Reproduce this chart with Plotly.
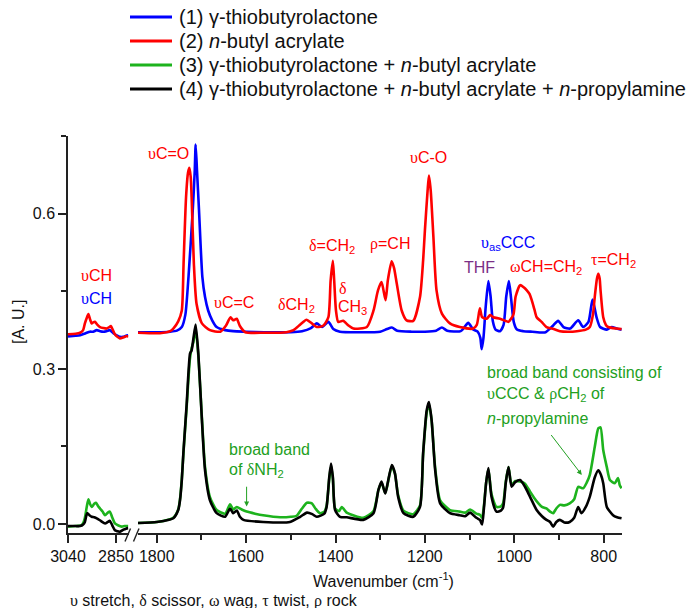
import plotly.graph_objects as go

# ---------------- spectra, C-H stretch window (3040-2800 cm-1) ----------------
WN_CH_BLUE = [3040, 3010, 2992, 2970, 2953, 2940, 2926, 2913, 2900, 2887, 2874, 2860, 2847, 2835, 2821, 2810, 2801]
AB_CH_BLUE = [0.363, 0.364, 0.365, 0.369, 0.372, 0.372, 0.375, 0.373, 0.372, 0.373, 0.375, 0.369, 0.365, 0.362, 0.362, 0.364, 0.365]

WN_CH_RED = [3040, 3010, 2992, 2980, 2973, 2966, 2959, 2952, 2946, 2940, 2933, 2923, 2913, 2900, 2887, 2876, 2870,
             2862, 2854, 2844, 2834, 2820, 2810, 2801]
AB_CH_RED = [0.367, 0.368, 0.370, 0.375, 0.388, 0.398, 0.406, 0.395, 0.388, 0.390, 0.391, 0.385, 0.381, 0.379, 0.378,
             0.381, 0.383, 0.375, 0.367, 0.362, 0.359, 0.361, 0.363, 0.363]

WN_CH_GREEN = [3040, 3010, 2986, 2978, 2973, 2965, 2959, 2952, 2946, 2936, 2929, 2921, 2913, 2903, 2893, 2882, 2874,
               2864, 2854, 2840, 2827, 2815, 2801]
AB_CH_GREEN = [-0.005, -0.004, -0.002, 0.004, 0.012, 0.035, 0.048, 0.038, 0.033, 0.039, 0.041, 0.035, 0.030, 0.024,
               0.017, 0.022, 0.024, 0.012, 0.001, -0.003, -0.005, -0.004, -0.004]

WN_CH_BLACK = [3040, 3010, 2992, 2980, 2973, 2968, 2964, 2955, 2946, 2936, 2926, 2910, 2893, 2882, 2874, 2864, 2854,
               2844, 2834, 2820, 2810, 2801]
AB_CH_BLACK = [-0.004, -0.004, -0.004, -0.001, 0.004, 0.015, 0.021, 0.017, 0.014, 0.013, 0.011, 0.006, 0.001, 0.004,
               0.006, -0.003, -0.012, -0.014, -0.015, -0.011, -0.009, -0.008]

# ---------------- spectra, fingerprint window (1840-760 cm-1) ----------------
WN_FP_BLUE = [1842, 1800, 1770, 1755, 1744, 1736, 1729, 1719.5, 1715, 1713, 1710, 1705.5, 1698, 1692, 1685, 1676,
              1666, 1647, 1629, 1600, 1560, 1500, 1475, 1455, 1442, 1430, 1416, 1405, 1390, 1350, 1300, 1285, 1274,
              1262, 1230, 1200, 1175, 1162, 1150, 1120, 1103, 1092, 1082, 1076, 1073, 1069, 1064, 1058, 1053, 1048,
              1042, 1032, 1024, 1018, 1012, 1007, 1001, 994, 980, 960, 930, 913, 902, 890, 875, 857, 846, 834, 825,
              816, 808, 793, 782, 771, 760]
AB_FP_BLUE = [0.371, 0.371, 0.372, 0.374, 0.381, 0.405, 0.478, 0.607, 0.684, 0.734, 0.684, 0.607, 0.478, 0.439, 0.413,
              0.394, 0.381, 0.375, 0.373, 0.372, 0.371, 0.371, 0.373, 0.379, 0.388, 0.381, 0.391, 0.377, 0.372, 0.371,
              0.372, 0.377, 0.380, 0.374, 0.372, 0.372, 0.374, 0.380, 0.374, 0.373, 0.389, 0.376, 0.372, 0.360, 0.338,
              0.360, 0.420, 0.470, 0.440, 0.392, 0.376, 0.373, 0.385, 0.440, 0.470, 0.435, 0.390, 0.376, 0.373, 0.372,
              0.371, 0.384, 0.393, 0.381, 0.378, 0.394, 0.381, 0.391, 0.434, 0.400, 0.381, 0.376, 0.381, 0.378, 0.376]

WN_FP_RED = [1842, 1793, 1770, 1763, 1752, 1744, 1740, 1734.5, 1730, 1727, 1724, 1722, 1717, 1711, 1699, 1681, 1658,
             1645, 1635, 1629, 1621, 1614, 1602, 1560, 1510, 1494, 1480, 1472, 1465, 1453, 1442, 1427, 1416, 1411,
             1406, 1403, 1399, 1394, 1383, 1371, 1360, 1330, 1315, 1305, 1297, 1288, 1283, 1274.5, 1269, 1263, 1252,
             1241, 1226, 1211, 1204, 1200, 1194, 1191, 1187, 1181, 1174, 1162, 1144, 1122, 1092, 1084, 1077, 1072,
             1062, 1054, 1047, 1032, 1020, 1013, 1002, 997, 987, 979, 972, 966, 961, 955, 950, 939, 928, 912, 898,
             880, 860, 840, 831, 824, 820, 815, 812, 809, 807, 801, 795, 790, 771, 760]
AB_FP_RED = [0.370, 0.369, 0.373, 0.378, 0.392, 0.413, 0.504, 0.632, 0.680, 0.689, 0.671, 0.632, 0.504, 0.426, 0.388,
             0.375, 0.372, 0.384, 0.400, 0.394, 0.397, 0.383, 0.371, 0.370, 0.371, 0.375, 0.385, 0.391, 0.395, 0.388,
             0.381, 0.384, 0.400, 0.471, 0.509, 0.471, 0.413, 0.391, 0.393, 0.384, 0.378, 0.381, 0.413, 0.452, 0.468,
             0.433, 0.471, 0.508, 0.495, 0.465, 0.413, 0.394, 0.393, 0.439, 0.510, 0.568, 0.645, 0.674, 0.645, 0.555,
             0.452, 0.407, 0.388, 0.381, 0.378, 0.385, 0.417, 0.400, 0.397, 0.404, 0.400, 0.397, 0.393, 0.391, 0.405,
             0.440, 0.462, 0.458, 0.452, 0.445, 0.433, 0.415, 0.400, 0.391, 0.381, 0.377, 0.373, 0.372, 0.373, 0.376,
             0.381, 0.405, 0.439, 0.475, 0.484, 0.475, 0.452, 0.400, 0.385, 0.381, 0.378, 0.377]

WN_FP_GREEN = [1842, 1800, 1785, 1763, 1752, 1748, 1744, 1740.5, 1733, 1726, 1722, 1718, 1713, 1707, 1699, 1692, 1681,
               1666, 1647, 1636, 1629, 1621, 1610, 1599, 1580, 1562, 1524, 1500, 1487, 1475, 1464, 1453, 1445, 1435,
               1425, 1420, 1414, 1410, 1406, 1401, 1392, 1386, 1378, 1375, 1338, 1315, 1304, 1297, 1289, 1285, 1274,
               1267, 1260, 1248, 1226, 1211, 1204, 1196, 1191, 1185, 1177, 1166, 1144, 1122, 1110, 1099, 1085, 1077,
               1072, 1068, 1063, 1058, 1051, 1040, 1030, 1025, 1019, 1013, 1006, 998, 987, 976, 965, 955, 946, 938,
               928, 920, 913, 906, 898, 888, 876, 866, 857, 846, 838, 831, 820, 812, 807, 801, 793, 786, 775, 768,
               764, 760]
AB_FP_GREEN = [0.002, 0.004, 0.006, 0.012, 0.028, 0.048, 0.087, 0.135, 0.228, 0.318, 0.340, 0.352, 0.378, 0.325, 0.205,
               0.110, 0.052, 0.027, 0.020, 0.038, 0.028, 0.033, 0.028, 0.024, 0.020, 0.017, 0.013, 0.014, 0.016, 0.030,
               0.041, 0.040, 0.030, 0.021, 0.024, 0.035, 0.088, 0.112, 0.088, 0.030, 0.025, 0.033, 0.025, 0.022, 0.012,
               0.025, 0.066, 0.080, 0.060, 0.071, 0.112, 0.097, 0.056, 0.026, 0.019, 0.036, 0.135, 0.215, 0.232, 0.200,
               0.108, 0.046, 0.027, 0.024, 0.022, 0.028, 0.020, 0.018, 0.012, 0.035, 0.080, 0.106, 0.058, 0.033, 0.034,
               0.040, 0.082, 0.110, 0.076, 0.083, 0.082, 0.078, 0.063, 0.050, 0.040, 0.033, 0.030, 0.024, 0.021, 0.030,
               0.037, 0.036, 0.040, 0.048, 0.072, 0.069, 0.080, 0.095, 0.149, 0.185, 0.187, 0.143, 0.110, 0.085, 0.079,
               0.089, 0.075, 0.069]

WN_FP_BLACK = [1842, 1800, 1785, 1763, 1752, 1748, 1744, 1740.5, 1733, 1725.5, 1722, 1718, 1713, 1707, 1699, 1692,
               1681, 1666, 1647, 1636, 1629, 1621, 1614, 1606, 1562, 1502, 1479, 1464, 1452, 1442, 1425, 1420, 1414,
               1410, 1406, 1401, 1390, 1375, 1338, 1315, 1304, 1297, 1289, 1285, 1274, 1267, 1260, 1248, 1226, 1211,
               1204, 1196, 1191, 1185, 1177, 1166, 1144, 1122, 1110, 1099, 1085, 1077, 1072, 1068, 1063, 1058, 1051,
               1040, 1030, 1025, 1019, 1013, 1006, 998, 987, 976, 965, 950, 938, 928, 920, 913, 906, 898, 888, 876,
               866, 857, 850, 840, 831, 820, 812, 806, 801, 793, 779, 770, 760]
AB_FP_BLACK = [0.002, 0.004, 0.006, 0.011, 0.027, 0.046, 0.085, 0.137, 0.233, 0.330, 0.336, 0.359, 0.386, 0.330, 0.201,
               0.104, 0.046, 0.021, 0.014, 0.030, 0.021, 0.026, 0.014, 0.008, 0.004, 0.004, 0.014, 0.022, 0.019, 0.014,
               0.020, 0.033, 0.091, 0.117, 0.091, 0.027, 0.014, 0.013, 0.008, 0.021, 0.066, 0.082, 0.059, 0.072, 0.114,
               0.098, 0.053, 0.021, 0.014, 0.033, 0.137, 0.220, 0.236, 0.201, 0.104, 0.040, 0.021, 0.017, 0.015, 0.022,
               0.012, 0.008, -0.001, 0.030, 0.080, 0.108, 0.053, 0.024, 0.026, 0.032, 0.080, 0.110, 0.072, 0.081, 0.085,
               0.072, 0.053, 0.027, 0.015, 0.008, 0.004, -0.005, 0.004, 0.008, 0.003, 0.004, 0.012, 0.033, 0.021, 0.033,
               0.053, 0.090, 0.104, 0.095, 0.079, 0.033, 0.017, 0.013, 0.011]

SERIES_NAMES = [
    "(1) γ-thiobutyrolactone",
    "(2) <i>n</i>-butyl acrylate",
    "(3) γ-thiobutyrolactone + <i>n</i>-butyl acrylate",
    "(4) γ-thiobutyrolactone + <i>n</i>-butyl acrylate + <i>n</i>-propylamine",
]
COLORS = ["#0000ff", "#ff0000", "#1db31d", "#000000"]
GREEN_TXT = "#22a022"
PURPLE = "#7b2f86"
FONT = "Arial, Liberation Sans, sans-serif"
SERIF = "Liberation Serif, DejaVu Serif, serif"

W, H = 687, 608
ML, MT, MB = 0, 136, 75
PLOT_H = H - MT - MB


def px(xp):
    return xp / W


def py(yp):
    return (H - MB - yp) / PLOT_H


def gk(ch):
    """Greek symbol set in a serif face, as in the band notation."""
    return f'<span style="font-family:{SERIF}">{ch}</span>'


fig = go.Figure()

ch_sets = [(WN_CH_BLUE, AB_CH_BLUE), (WN_CH_RED, AB_CH_RED), (WN_CH_GREEN, AB_CH_GREEN), (WN_CH_BLACK, AB_CH_BLACK)]
fp_sets = [(WN_FP_BLUE, AB_FP_BLUE), (WN_FP_RED, AB_FP_RED), (WN_FP_GREEN, AB_FP_GREEN), (WN_FP_BLACK, AB_FP_BLACK)]

for i in range(4):
    wx, ay = ch_sets[i]
    fig.add_trace(go.Scatter(x=wx, y=ay, xaxis="x", yaxis="y", mode="lines", name=SERIES_NAMES[i],
                             legendgroup=str(i), showlegend=False,
                             line=dict(color=COLORS[i], width=2.6, shape="spline", smoothing=0.6)))
    wx, ay = fp_sets[i]
    fig.add_trace(go.Scatter(x=wx, y=ay, xaxis="x2", yaxis="y", mode="lines", name=SERIES_NAMES[i],
                             legendgroup=str(i), showlegend=False,
                             line=dict(color=COLORS[i], width=2.6, shape="spline", smoothing=0.6)))

axis_common = dict(showline=True, linecolor="#222", linewidth=1.5, ticks="outside", ticklen=8, tickwidth=1.5,
                   tickcolor="#222", showgrid=False, zeroline=False, automargin=False,
                   tickfont=dict(family=FONT, size=16, color="#111"))

fig.update_layout(
    width=W, height=H,
    margin=dict(l=ML, r=0, t=MT, b=MB, autoexpand=False),
    paper_bgcolor="white", plot_bgcolor="white",
    showlegend=False,
    xaxis=dict(domain=[px(68), px(128.5)], range=[3040, 2800], anchor="y",
               tickmode="array", tickvals=[3040, 2850], ticktext=["3040", "2850"], **axis_common),
    xaxis2=dict(domain=[px(138), px(622)], range=[1842, 759], anchor="y",
                tickmode="array", tickvals=[1800, 1600, 1400, 1200, 1000, 800],
                minor=dict(tickmode="array", tickvals=[1700, 1500, 1300, 1100, 900], ticklen=5,
                           ticks="outside", tickwidth=1.5, tickcolor="#222"),
                **axis_common),
    yaxis=dict(domain=[0, 1], range=[-0.0174, 0.7505], anchor="x",
               tickmode="array", tickvals=[0.0, 0.3, 0.6], ticktext=["0.0", "0.3", "0.6"],
               minor=dict(tickmode="array", tickvals=[0.15, 0.45, 0.75], ticklen=5,
                          ticks="outside", tickwidth=1.5, tickcolor="#222"),
               **axis_common),
)

# axis break marks
for x0, x1 in [(125, 130.5), (133.5, 139)]:
    fig.add_shape(type="line", xref="paper", yref="paper", x0=px(x0), y0=py(541.5), x1=px(x1), y1=py(528.5),
                  line=dict(color="#222", width=1.4))

# legend drawn as line samples and labels
for i, yrow in enumerate([17, 41, 65, 89]):
    fig.add_shape(type="line", xref="paper", yref="paper", x0=px(130), x1=px(172), y0=py(yrow), y1=py(yrow),
                  line=dict(color=COLORS[i], width=3))
    fig.add_annotation(xref="paper", yref="paper", x=px(177), y=py(yrow), text=SERIES_NAMES[i], showarrow=False,
                       xanchor="left", yanchor="middle", font=dict(family=FONT, size=20, color="#111"))

# band assignments
labels = [
    # (xref, wavenumber, absorbance, text, colour)
    ("x", 2926, 0.481, gk("υ") + "CH", COLORS[1]),
    ("x", 2926, 0.436, gk("υ") + "CH", COLORS[0]),
    ("x2", 1774, 0.716, gk("υ") + "C=O", COLORS[1]),
    ("x2", 1699, 0.769, gk("υ") + "C=O", COLORS[0]),
    ("x2", 1627, 0.429, gk("υ") + "C=C", COLORS[1]),
    ("x2", 1487, 0.422, gk("δ") + "CH<sub>2</sub>", COLORS[1]),
    ("x2", 1408, 0.536, gk("δ") + "=CH<sub>2</sub>", COLORS[1]),
    ("x2", 1383, 0.455, gk("δ"), COLORS[1]),
    ("x2", 1362, 0.418, "CH<sub>3</sub>", COLORS[1]),
    ("x2", 1278, 0.541, gk("ρ") + "=CH", COLORS[1]),
    ("x2", 1192, 0.708, gk("υ") + "C-O", COLORS[1]),
    ("x2", 1013, 0.542, gk("υ") + "<sub>as</sub>CCC", COLORS[0]),
    ("x2", 1077, 0.496, "THF", PURPLE),
    ("x2", 928, 0.496, gk("ω") + "CH=CH<sub>2</sub>", COLORS[1]),
    ("x2", 779, 0.509, gk("τ") + "=CH<sub>2</sub>", COLORS[1]),
]
for xr, wx, ay, txt, col in labels:
    fig.add_annotation(xref=xr, yref="y", x=wx, y=ay, text=txt, showarrow=False, xanchor="center",
                       yanchor="middle", font=dict(family=FONT, size=16, color=col))

# notes on the amine bands
notes = [
    (1643, 0.145, "broad band"),
    (1643, 0.104, "of " + gk("δ") + "NH<sub>2</sub>"),
    (1066, 0.294, "broad band consisting of"),
    (1066, 0.251, gk("υ") + "CCC &amp; " + gk("ρ") + "CH<sub>2</sub> of"),
    (1066, 0.205, "<i>n</i>-propylamine"),
]
for wx, ay, txt in notes:
    fig.add_annotation(xref="x2", yref="y", x=wx, y=ay, text=txt, showarrow=False, xanchor="left",
                       yanchor="middle", font=dict(family=FONT, size=16, color=GREEN_TXT))

for (hx, hy, tx, ty) in [(1599, 0.034, 1599, 0.075), (849, 0.095, 920, 0.175)]:
    fig.add_annotation(xref="x2", yref="y", x=hx, y=hy, axref="x2", ayref="y", ax=tx, ay=ty, text="",
                       showarrow=True, arrowhead=2, arrowsize=1, arrowwidth=1, arrowcolor=GREEN_TXT)

# axis titles and footnote
fig.add_annotation(xref="paper", yref="paper", x=px(383), y=py(580), text="Wavenumber (cm<sup>-1</sup>)",
                   showarrow=False, xanchor="center", yanchor="middle", font=dict(family=FONT, size=16, color="#111"))
fig.add_annotation(xref="paper", yref="paper", x=px(18), y=py(322), text="[A. U.]", textangle=-90,
                   showarrow=False, xanchor="center", yanchor="middle", font=dict(family=FONT, size=16, color="#111"))
fig.add_annotation(xref="paper", yref="paper", x=px(68), y=py(601),
                   text=(gk("υ") + " stretch, " + gk("δ") + " scissor, " + gk("ω") + " wag, "
                         + gk("τ") + " twist, " + gk("ρ") + " rock"),
                   showarrow=False, xanchor="left", yanchor="middle", font=dict(family=FONT, size=16, color="#111"))

fig.write_html("out.html")
